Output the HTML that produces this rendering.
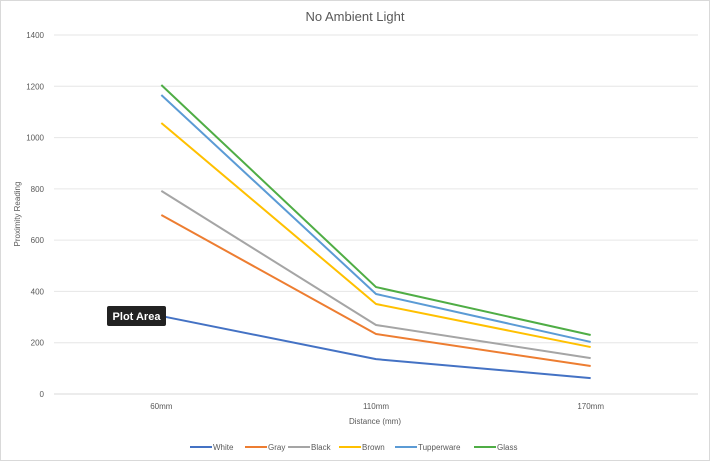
<!DOCTYPE html>
<html><head><meta charset="utf-8"><style>
body{margin:0;background:#fff;font-family:"Liberation Sans",sans-serif}
svg{display:block}
</style></head><body>
<svg id="c" width="710" height="461" xmlns="http://www.w3.org/2000/svg">
<rect x="0.5" y="0.5" width="709" height="460" fill="#fff" stroke="#d9d9d9"/>
<text x="355" y="21" text-anchor="middle" font-size="13" fill="#595959">No Ambient Light</text>
<text transform="translate(20,214) rotate(-90)" text-anchor="middle" font-size="8" fill="#595959">Proximity Reading</text>
<text x="375" y="424" text-anchor="middle" font-size="8" fill="#595959">Distance (mm)</text>
<g id="grid"></g><g id="series"></g><g id="legend"></g>
<g>
<rect x="107" y="306" width="59" height="20" rx="2" fill="#222"/>
<text x="136.5" y="320" text-anchor="middle" font-size="11" font-weight="bold" fill="#fff">Plot Area</text>
</g>
</svg>
<script>
const categories=["60mm","110mm","170mm"];
const yTicks=[0,200,400,600,800,1000,1200,1400];
const seriesNames=["White","Gray","Black","Brown","Tupperware","Glass"];
const seriesColors=["#4472c4","#ed7d31","#a5a5a5","#ffc000","#5b9bd5","#4fad45"];
const white=[304,136,62];
const gray=[698,234,109];
const black=[792,269,140];
const brown=[1057,351,183];
const tupperware=[1166,390,203];
const glass=[1205,417,230];
const allSeries=[white,gray,black,brown,tupperware,glass];
const NS="http://www.w3.org/2000/svg";
const x0=54,x1=698,yb=394,yt=35,ymax=1400;
const yS=v=>yb-(v/ymax)*(yb-yt);
const xS=i=>x0+(i+0.5)*(x1-x0)/categories.length;
function mk(t,a,p){const e=document.createElementNS(NS,t);for(const k in a)e.setAttribute(k,a[k]);p.appendChild(e);return e;}
const grid=document.getElementById('grid');
yTicks.forEach(v=>{
 const l=mk('line',{x1:x0,x2:x1,y1:yS(v),y2:yS(v),stroke:v===0?'#d9d9d9':'#e6e6e6','stroke-width':1},grid);
 
 
 const t=mk('text',{x:x0-10,y:yS(v)+3,'text-anchor':'end','font-size':8,fill:'#595959'},grid);
 t.textContent=v;
 
 
});
categories.forEach((c,i)=>{
 const t=mk('text',{x:xS(i),y:yb+15,'text-anchor':'middle','font-size':8,fill:'#595959'},grid);
 t.textContent=c;
 
 
});
const sg=document.getElementById('series');
allSeries.forEach((s,k)=>{
 const p=mk('polyline',{points:s.map((v,i)=>xS(i)+','+yS(v)).join(' '),fill:'none',stroke:seriesColors[k],'stroke-width':2,'stroke-linejoin':'round'},sg);
 
 
});
const lg=document.getElementById('legend');
const lx=[190,245,288,339,395,474];
seriesNames.forEach((n,k)=>{
 const g=mk('g',{},lg);
 
 
 mk('line',{x1:lx[k],x2:lx[k]+22,y1:447,y2:447,stroke:seriesColors[k],'stroke-width':2},g);
 const t=mk('text',{x:lx[k]+23,y:450,'font-size':8,fill:'#595959'},g);
 t.textContent=n;
});
</script>
</body></html>
